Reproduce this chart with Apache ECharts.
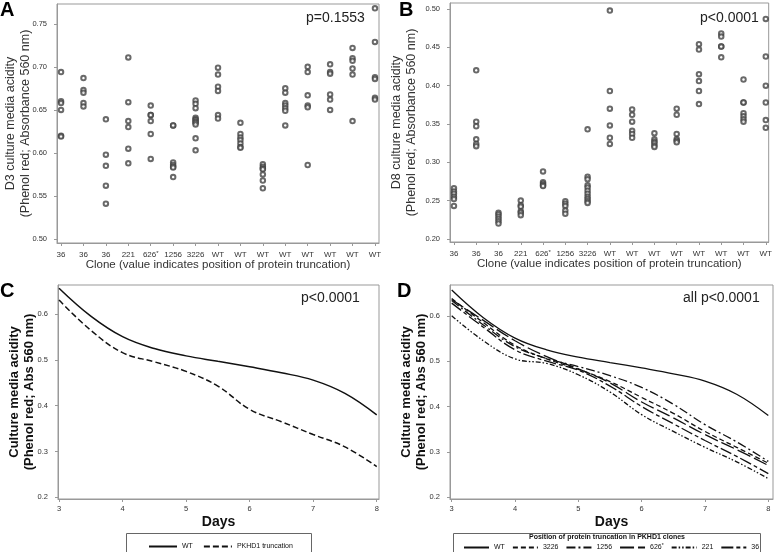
<!DOCTYPE html>
<html><head><meta charset="utf-8">
<script src="https://cdn.jsdelivr.net/npm/echarts@6/dist/echarts.min.js"></script>
<style>html,body{margin:0;padding:0;background:#fff}#c{width:775px;height:552px}</style>
</head><body><div id="c"></div>
<script>
// ---------- DATA ----------
const clones = ['36','36','36','221','626*','1256','3226','WT','WT','WT','WT','WT','WT','WT','WT'];
const clonePositions = [1,2,3,4,5,6,7,8,9,10,11,12,13,14,15];
const d3Acidity = [
 [0.694,0.660,0.658,0.650,0.620,0.619],
 [0.687,0.673,0.670,0.658,0.654],
 [0.639,0.598,0.585,0.562,0.541],
 [0.711,0.659,0.637,0.630,0.605,0.588],
 [0.655,0.644,0.644,0.637,0.622,0.593],
 [0.632,0.632,0.589,0.586,0.584,0.583,0.572],
 [0.661,0.657,0.652,0.641,0.639,0.638,0.636,0.635,0.633,0.617,0.603],
 [0.699,0.691,0.677,0.672,0.644,0.640],
 [0.635,0.622,0.618,0.615,0.611,0.607,0.606],
 [0.587,0.584,0.582,0.581,0.575,0.568,0.559],
 [0.675,0.670,0.658,0.655,0.652,0.649,0.632],
 [0.700,0.694,0.667,0.655,0.653,0.586],
 [0.703,0.694,0.692,0.668,0.662,0.650],
 [0.722,0.710,0.707,0.698,0.691,0.637],
 [0.768,0.729,0.688,0.686,0.664,0.662]
];
const d8Acidity = [
 [0.266,0.262,0.259,0.255,0.252,0.243],
 [0.420,0.353,0.347,0.330,0.324,0.321],
 [0.234,0.232,0.229,0.226,0.223,0.220],
 [0.250,0.244,0.242,0.236,0.234,0.231],
 [0.288,0.274,0.272,0.270,0.269],
 [0.249,0.246,0.243,0.237,0.233],
 [0.343,0.281,0.278,0.270,0.267,0.263,0.259,0.255,0.252,0.249,0.247],
 [0.498,0.393,0.370,0.348,0.332,0.324],
 [0.369,0.362,0.353,0.341,0.337,0.332],
 [0.338,0.330,0.327,0.325,0.322,0.320],
 [0.370,0.362,0.337,0.330,0.328,0.326],
 [0.454,0.447,0.415,0.406,0.393,0.376],
 [0.468,0.464,0.451,0.451,0.437],
 [0.408,0.378,0.378,0.364,0.360,0.356,0.353],
 [0.487,0.438,0.400,0.378,0.355,0.345]
];
const days = [3,3.5,4,4.5,5,5.5,6,6.5,7,7.5,8];
const dayTicks = [3,4,5,6,7,8];
const wtCurve    = [0.657,0.596,0.551,0.525,0.509,0.497,0.485,0.472,0.456,0.427,0.380];
const truncCurve = [0.631,0.565,0.516,0.496,0.475,0.443,0.392,0.365,0.337,0.310,0.267];
const c3226 = [0.638,0.585,0.535,0.505,0.482,0.455,0.420,0.385,0.345,0.310,0.275];
const c1256 = [0.634,0.580,0.532,0.506,0.488,0.468,0.442,0.405,0.360,0.322,0.279];
const c626  = [0.636,0.590,0.545,0.510,0.483,0.452,0.410,0.375,0.338,0.305,0.270];
const c221  = [0.600,0.545,0.505,0.495,0.470,0.432,0.382,0.345,0.310,0.278,0.241];
const c36   = [0.628,0.575,0.525,0.500,0.480,0.445,0.400,0.362,0.325,0.290,0.252];
const ticksA = [0.50,0.55,0.60,0.65,0.70,0.75];
const ticksB = [0.20,0.25,0.30,0.35,0.40,0.45,0.50];
const ticksCD = [0.2,0.3,0.4,0.5,0.6];

// ---------- CHART ----------
const FONT = 'Liberation Sans, Arial, sans-serif';
const TXT = '#333';
const FRAME = '#999';
function scatterData(vals){
  const out=[];
  vals.forEach((col,i)=>col.forEach(v=>out.push([clonePositions[i],v])));
  return out;
}
function cloneLabel(v){
  const i = clonePositions.indexOf(Math.round(v));
  const s = clones[i] || '';
  if (s.endsWith('*')) return '{n|'+s.slice(0,-1)+'}{s|*}';
  return '{n|'+s+'}';
}
const labRich = {n:{fontSize:8,fontFamily:FONT,color:TXT,lineHeight:12},s:{fontSize:6,fontFamily:FONT,color:TXT,lineHeight:12,padding:[0,0,4,0]}};
function baseAxis(extra){
  return Object.assign({
    type:'value', splitLine:{show:false}, nameMoveOverlap:false,
    axisLine:{show:true,lineStyle:{color:FRAME,width:1}},
    axisTick:{show:true,length:3,lineStyle:{color:FRAME}}
  }, extra);
}
function cloneXAxis(gi,min,max){
  return baseAxis({gridIndex:gi,min:min,max:max,
    axisTick:{show:true,length:3,lineStyle:{color:FRAME},customValues:clonePositions},
    axisLabel:{fontSize:8,fontFamily:FONT,color:TXT,margin:6,customValues:clonePositions,formatter:cloneLabel,rich:labRich},
    name:'Clone (value indicates position of protein truncation)',nameLocation:'middle',nameGap:16,
    nameTextStyle:{fontSize:11.5,fontFamily:FONT,color:TXT,verticalAlign:'top'}});
}
function dayXAxis(gi,min,max){
  return baseAxis({gridIndex:gi,min:min,max:max,
    axisTick:{show:true,length:3,lineStyle:{color:FRAME},customValues:dayTicks},
    axisLabel:{fontSize:7.5,fontFamily:FONT,color:TXT,margin:6,customValues:dayTicks,formatter:v=>String(Math.round(v))},
    name:'Days',nameLocation:'middle',nameGap:16,
    nameTextStyle:{fontSize:14,fontWeight:'bold',fontFamily:FONT,color:'#111',verticalAlign:'top'}});
}
function yAx(gi,min,max,ticks,dec,name,gap,bold){
  return baseAxis({gridIndex:gi,min:min,max:max,
    axisTick:{show:true,length:3,lineStyle:{color:FRAME},customValues:ticks},
    axisLabel:{fontSize:7.5,fontFamily:FONT,color:TXT,margin:10,customValues:ticks,formatter:v=>v.toFixed(dec)},
    name:name,nameLocation:'middle',nameGap:gap,nameRotate:90,
    nameTextStyle:{fontSize:bold?13:12.5,fontWeight:bold?'bold':'normal',fontFamily:FONT,color:bold?'#111':TXT,lineHeight:15,verticalAlign:'bottom'}});
}
const scatterStyle = {type:'scatter',symbol:'emptyCircle',symbolSize:4.5,itemStyle:{color:'#444',borderWidth:0.7},silent:true};
const lineBase = {type:'line',showSymbol:false,symbol:'none',smooth:0.4,silent:true};
function ln(name,xi,data,dash,w){
  return Object.assign({},lineBase,{name:name,xAxisIndex:xi,yAxisIndex:xi,
    data:days.map((d,i)=>[d,data[i]]),
    lineStyle:{color:'#111',width:w||1.4,type:dash||'solid'},itemStyle:{color:'#111'}});
}
const D_DASH = [5,3];
const D_DASHDOT = [9,3,2,3];
const D_LONG = [14,4];
const D_DASHDOTDOT = [5,2,1.5,2,1.5,2];
const D_LONGSHORT = [12,3,4,3];
const hiddenSym = {color:'rgba(0,0,0,0)',borderColor:'rgba(0,0,0,0)',borderWidth:0};

const option = {
  animation:false,
  backgroundColor:'#fff',
  grid:[
    {left:57,top:4,width:322,height:239,show:true,borderColor:FRAME,borderWidth:1},
    {left:450,top:3,width:323,height:239,show:true,borderColor:FRAME,borderWidth:1},
    {left:58,top:285,width:321,height:214,show:true,borderColor:FRAME,borderWidth:1},
    {left:450,top:285,width:323,height:214,show:true,borderColor:FRAME,borderWidth:1}
  ],
  xAxis:[
    cloneXAxis(0,0.82,15.18),
    cloneXAxis(1,0.823,15.13),
    dayXAxis(2,2.984,8.036),
    dayXAxis(3,2.973,8.074)
  ],
  yAxis:[
    yAx(0,0.4954,0.773,ticksA,2,'D3 culture media acidity\n(Phenol red; Absorbance 560 nm)',24,false),
    yAx(1,0.196,0.5078,ticksB,2,'D8 culture media acidity\n(Phenol red; Absorbance 560 nm)',31,false),
    yAx(2,0.196,0.664,ticksCD,1,'Culture media acidity\n(Phenol red; Abs 560 nm)',21,true),
    yAx(3,0.196,0.668,ticksCD,1,'Culture media acidity\n(Phenol red; Abs 560 nm)',21,true)
  ],
  legend:[
    {left:148,top:543,itemWidth:28,itemHeight:6,itemGap:10,padding:0,itemStyle:hiddenSym,
     textStyle:{fontSize:7,fontFamily:FONT,color:'#111'},
     data:['WT','PKHD1 truncation']},
    {left:463,top:543,itemWidth:25,itemHeight:6,itemGap:7,padding:0,itemStyle:hiddenSym,
     textStyle:{fontSize:7,fontFamily:FONT,color:'#111',rich:{n:{fontSize:7,fontFamily:FONT,color:'#111',lineHeight:10},s:{fontSize:5,fontFamily:FONT,color:'#111',lineHeight:10,padding:[0,0,4,0]}}},
     formatter:n=>n==='626*'?'{n|626}{s|*}':'{n|'+n.trim()+'}',
     data:['WT ','3226','1256','626*','221','36']}
  ],
  series:[
    Object.assign({},scatterStyle,{xAxisIndex:0,yAxisIndex:0,data:scatterData(d3Acidity)}),
    Object.assign({},scatterStyle,{xAxisIndex:1,yAxisIndex:1,data:scatterData(d8Acidity)}),
    ln('WT',2,wtCurve,'solid',1.5),
    ln('PKHD1 truncation',2,truncCurve,[6,3],1.5),
    ln('WT ',3,wtCurve,'solid',1.3),
    ln('3226',3,c3226,D_DASH,1.3),
    ln('1256',3,c1256,D_DASHDOT,1.3),
    ln('626*',3,c626,D_LONG,1.3),
    ln('221',3,c221,D_DASHDOTDOT,1.3),
    ln('36',3,c36,D_LONGSHORT,1.3)
  ],
  graphic:[
    {type:'text',left:0,top:0,style:{text:'A',fontSize:20,fontWeight:'bold',fontFamily:FONT,fill:'#000'}},
    {type:'text',left:399,top:0,style:{text:'B',fontSize:20,fontWeight:'bold',fontFamily:FONT,fill:'#000'}},
    {type:'text',left:0,top:281,style:{text:'C',fontSize:20,fontWeight:'bold',fontFamily:FONT,fill:'#000'}},
    {type:'text',left:397,top:281,style:{text:'D',fontSize:20,fontWeight:'bold',fontFamily:FONT,fill:'#000'}},
    {type:'text',left:306,top:11,style:{text:'p=0.1553',fontSize:14,fontFamily:FONT,fill:'#222'}},
    {type:'text',left:700,top:11,style:{text:'p<0.0001',fontSize:14,fontFamily:FONT,fill:'#222'}},
    {type:'text',left:301,top:291,style:{text:'p<0.0001',fontSize:14,fontFamily:FONT,fill:'#222'}},
    {type:'text',left:683,top:291,style:{text:'all p<0.0001',fontSize:14,fontFamily:FONT,fill:'#222'}},
    {type:'rect',shape:{x:126.5,y:533.5,width:185,height:20},style:{fill:'none',stroke:'#666',lineWidth:1}},
    {type:'rect',shape:{x:453.5,y:533.5,width:307,height:20},style:{fill:'none',stroke:'#666',lineWidth:1}},
    {type:'text',x:607,y:534,style:{text:'Position of protein truncation in PKHD1 clones',fontSize:7,fontWeight:'bold',fontFamily:FONT,fill:'#111',align:'center'}}
  ]
};
const chart = echarts.init(document.getElementById('c'),null,{renderer:'canvas'});
chart.setOption(option);
</script></body></html>
